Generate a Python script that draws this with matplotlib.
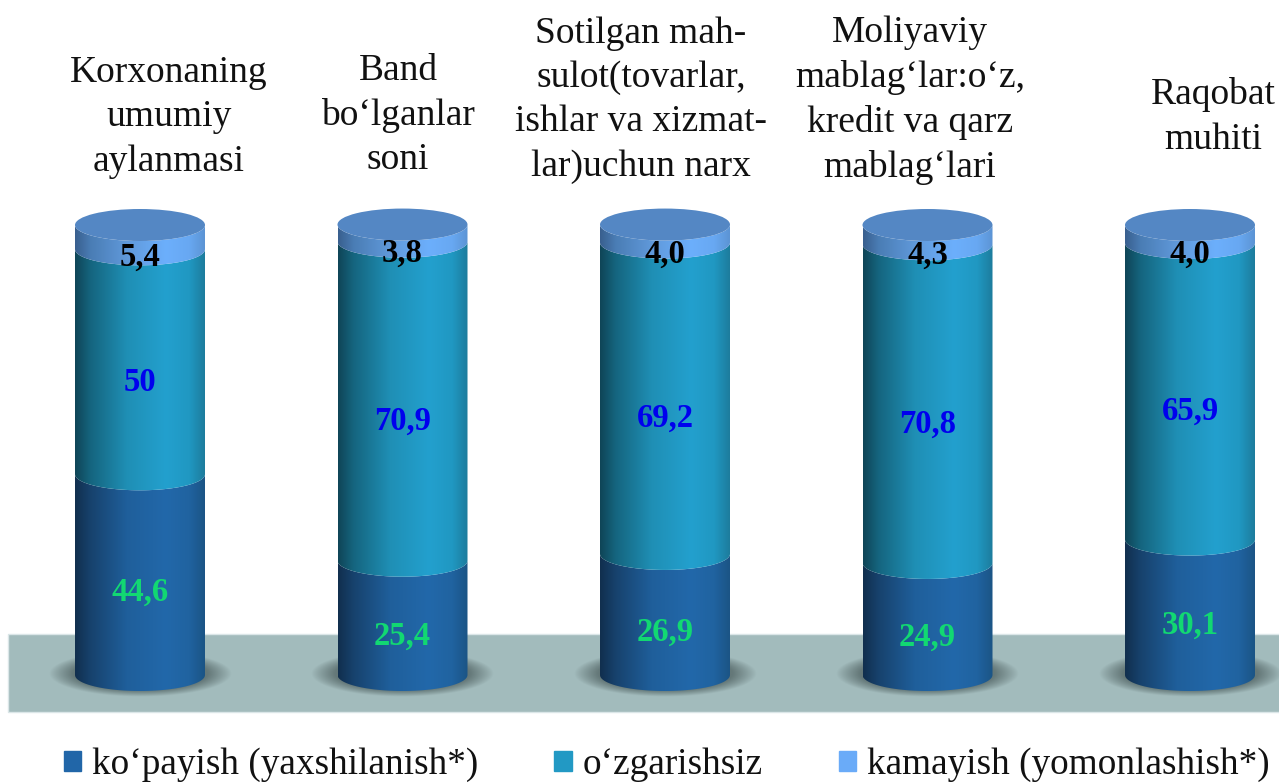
import numpy as np
import matplotlib
matplotlib.use("Agg")
import matplotlib.pyplot as plt
from matplotlib.colors import LinearSegmentedColormap
from matplotlib.patches import Ellipse, Rectangle, Patch
from matplotlib.path import Path
from matplotlib.patches import PathPatch

plt.rcParams['font.family'] = ['Liberation Serif', 'DejaVu Serif']

titles = ["Korxonaning\numumiy\naylanmasi",
          "Band\nbo‘lganlar\nsoni",
          "Sotilgan mah-\nsulot(tovarlar,\nishlar va xizmat-\nlar)uchun narx",
          "Moliyaviy\nmablag‘lar:o‘z,\nkredit va qarz\nmablag‘lari",
          "Raqobat\nmuhiti"]
series_names = ["ko‘payish (yaxshilanish*)", "o‘zgarishsiz", "kamayish (yomonlashish*)"]
increase = [44.6, 25.4, 26.9, 24.9, 30.1]
unchanged = [50, 70.9, 69.2, 70.8, 65.9]
decrease = [5.4, 3.8, 4.0, 4.3, 4.0]
increase_lbl = ["44,6", "25,4", "26,9", "24,9", "30,1"]
unchanged_lbl = ["50", "70,9", "69,2", "70,8", "65,9"]
decrease_lbl = ["5,4", "3,8", "4,0", "4,3", "4,0"]

W, H = 1279, 783
fig = plt.figure(figsize=(W / 100, H / 100), dpi=100)
ax = fig.add_axes([0, 0, 1, 1])
xlim = (-140 / 262.5, (W - 140) / 262.5)
ylim = (-108 / 4.5, 225 / 4.5 + 100)
ax.axis('off')

px_x = 262.5
px_y = 4.5
half_w = 65 / px_x
b = 16 / px_y

# floor
ax.add_patch(Rectangle((xlim[0] + 8 / px_x, -37 / px_y), xlim[1] - xlim[0], 78 / px_y,
                       facecolor='#a2bbbc', edgecolor='#dbe6e8', lw=1, zorder=1))

maps = [
    LinearSegmentedColormap.from_list('inc', [(0, '#112f4e'), (.12, '#17426d'), (.4, '#1f5f9b'), (.7, '#2268aa'), (.88, '#2063a0'), (1, '#1b5485')]),
    LinearSegmentedColormap.from_list('unc', [(0, '#0f4557'), (.12, '#15657f'), (.4, '#1f8fb5'), (.7, '#23a0ce'), (.88, '#2098c2'), (1, '#1d7c9d')]),
    LinearSegmentedColormap.from_list('dec', [(0, '#395f8e'), (.12, '#4a7db5'), (.4, '#6099da'), (.7, '#6caffc'), (.88, '#68a8f2'), (1, '#5c94d4')]),
]
grad = np.linspace(0, 1, 256).reshape(1, -1)


def seg_path(cx, y0, y1):
    t = np.linspace(np.pi, 2 * np.pi, 60)
    xs = cx + half_w * np.cos(t)
    ys = np.sin(t) * b
    verts = np.vstack([np.c_[xs, y0 + ys], np.c_[xs[::-1], y1 + ys[::-1]], [[xs[0], y0 + ys[0]]]])
    codes = [Path.MOVETO] + [Path.LINETO] * (len(verts) - 2) + [Path.CLOSEPOLY]
    return Path(verts, codes)


# shadow alpha field
yy, xx = np.mgrid[-1.1:1.1:160j, -1.1:1.1:320j]
r = np.sqrt(xx ** 2 + yy ** 2)
alpha = np.clip((1.0 - r) / 0.26, 0, 1) ** 0.9 * 0.6
shadow = np.zeros(r.shape + (4,))
shadow[..., :3] = np.array([0x3c, 0x4c, 0x4c]) / 255
shadow[..., 3] = alpha

for i, vals in enumerate(zip(increase, unchanged, decrease)):
    sx, sy = 91 * 1.1 / px_x, 23 * 1.1 / px_y
    ax.imshow(shadow, extent=(i - sx, i + sx, 0.2 - sy, 0.2 + sy),
              aspect='auto', zorder=2, interpolation='bilinear')
    bottom = 0
    for k, v in enumerate(vals):
        im = ax.imshow(grad, extent=(i - half_w, i + half_w, bottom - b - 1, bottom + v), aspect='auto',
                       cmap=maps[k], zorder=3 + k)
        im.set_clip_path(PathPatch(seg_path(i, bottom, bottom + v), transform=ax.transData))
        bottom += v
    ax.add_patch(Ellipse((i, bottom), 2 * half_w, 2 * b, facecolor='#5487c4', edgecolor='none', zorder=7))

    fig_lbl = [increase_lbl[i], unchanged_lbl[i], decrease_lbl[i]]
    cols = ['#12d872', '#0000ee', 'black']
    bottom = 0
    for k, v in enumerate(vals):
        ax.text(i, bottom + v / 2 - (4.0 if k == 0 else 4.5), fig_lbl[k], color=cols[k], fontsize=23.5,
                fontweight='bold', ha='center', va='center', zorder=8)
        bottom += v

ax.set_xlim(xlim)
ax.set_ylim(ylim)

title_x = [169, 398, 641, 910, 1213]
title_y = [117, 115, 100, 100, 117]
for t, x, y in zip(titles, title_x, title_y):
    fig.text(x / W, 1 - y / H, t, fontsize=27, ha='center', va='center', linespacing=1.37, color='#111111')

handles = [Patch(color=c) for c in ['#2166a8', '#2299c4', '#6aabf8']]
fig.legend(handles, series_names, loc='lower left', bbox_to_anchor=(64 / W, 0.5 / H), ncols=3, frameon=False,
           fontsize=26.8, handlelength=0.46, handleheight=0.46, handletextpad=0.3, columnspacing=2.04,
           borderpad=0, borderaxespad=0, labelcolor='#111111')

fig.savefig('out.png', dpi=100)
